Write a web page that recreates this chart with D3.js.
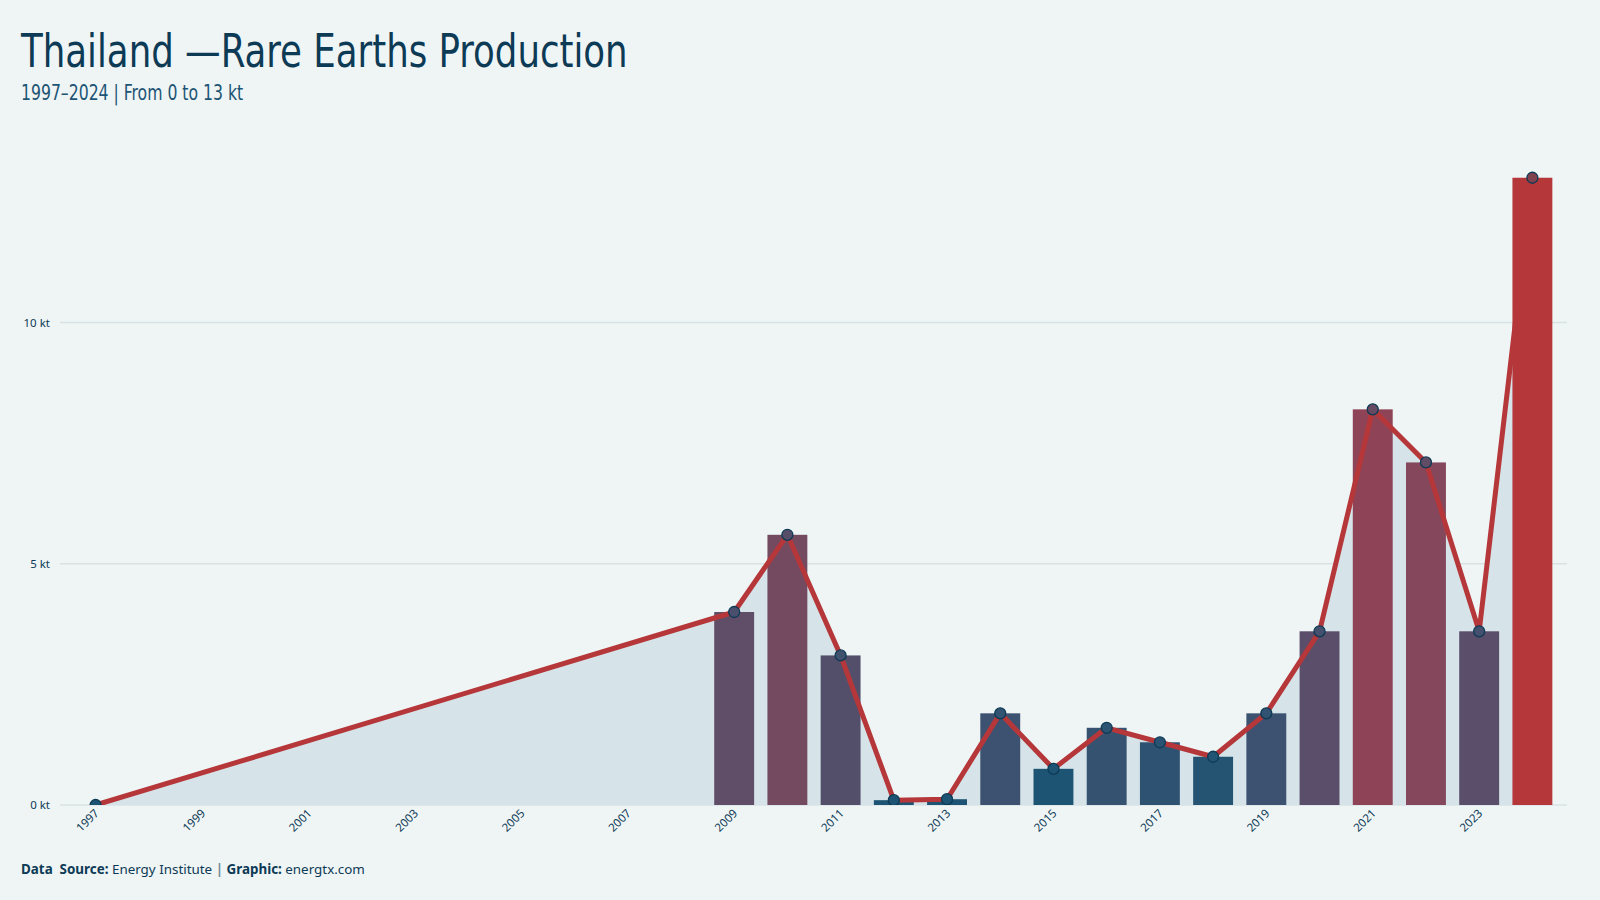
<!DOCTYPE html>
<html>
<head>
<meta charset="utf-8">
<script src="https://cdn.jsdelivr.net/npm/d3@7"></script>
<style>
  body { margin: 0; background: #eff5f5; }
  svg { display: block; }
</style>
</head>
<body>
<div class="svg"></div>
<script>
// data (kt)
const years = [1997, 2009, 2010, 2011, 2012, 2013, 2014, 2015, 2016, 2017, 2018, 2019, 2020, 2021, 2022, 2023, 2024];
const values = [0, 4.0, 5.6, 3.1, 0.1, 0.12, 1.9, 0.75, 1.6, 1.3, 1.0, 1.9, 3.6, 8.2, 7.1, 3.6, 13.0];
const allYears = d3.range(1997, 2025);
const yTicks = [0, 5, 10];
const xTickYears = allYears.filter(y => (y - 1997) % 2 === 0);

const w = 1600;
const h = 900;
const plotLeft = 60, plotRight = 1567, plotTop = 130, plotBottom = 805;

const data = years.map((y, i) => ({ year: y, value: values[i] }));

const svg = d3.select('.svg')
              .append('svg')
              .attr('width', w)
              .attr('height', h);

let xScale, yScale, colorScale;

let drawCanvas = () => {
    svg.append('rect')
       .attr('width', w)
       .attr('height', h)
       .attr('fill', '#eff5f5');

    // no condensed face installed, so squeeze the text sideways
    svg.append('text')
       .text('Thailand \u2014Rare Earths Production')
       .attr('transform', 'translate(21,67) scale(0.86,1)')
       .attr('fill', '#0d3a55')
       .style('font-family', '"DejaVu Sans", sans-serif')
       .style('font-stretch', 'condensed')
       .style('font-size', '46px');

    svg.append('text')
       .text('1997\u20132024 | From 0 to 13 kt')
       .attr('transform', 'translate(21,100) scale(0.83,1)')
       .attr('fill', '#1d5474')
       .style('font-family', '"DejaVu Sans", sans-serif')
       .style('font-stretch', 'condensed')
       .style('font-size', '21px');

    const foot = svg.append('text')
       .attr('x', 21)
       .attr('y', 874)
       .attr('fill', '#0d3a55')
       .style('font-family', '"Noto Sans", sans-serif')
       .style('font-size', '13.4px');
    foot.append('tspan').text('Data\u00a0 Source: ').style('font-weight', 'bold');
    foot.append('tspan').text('Energy Institute ');
    foot.append('tspan').text('| ').attr('fill', '#6f8a99').style('font-weight', 'bold');
    foot.append('tspan').text('Graphic: ').style('font-weight', 'bold');
    foot.append('tspan').text('energtx.com');
}

let createScales = () => {
    xScale = d3.scaleBand()
               .domain(allYears)
               .range([69, 1559])
               .paddingInner(0.25)
               .paddingOuter(0.125);

    yScale = d3.scaleLinear()
               .domain([0, 10])
               .range([plotBottom, 322.5]);

    colorScale = d3.scaleLinear()
                   .domain([0.8, 13])
                   .range(['#1d5474', '#b5373a'])
                   .interpolate(d3.interpolateRgb.gamma(2.0))
                   .clamp(true);
}

let createAxis = () => {
    const grid = svg.append('g').attr('id', 'y-axis');
    grid.selectAll('line')
        .data(yTicks)
        .enter()
        .append('line')
        .attr('x1', plotLeft)
        .attr('x2', plotRight)
        .attr('y1', d => yScale(d))
        .attr('y2', d => yScale(d))
        .attr('stroke', '#d8e2e5')
        .attr('stroke-width', 1.5);
    grid.selectAll('text')
        .data(yTicks)
        .enter()
        .append('text')
        .text(d => d + ' kt')
        .attr('x', 50)
        .attr('y', d => yScale(d))
        .attr('dy', '0.35em')
        .attr('text-anchor', 'end')
        .attr('fill', '#0d3a55')
        .style('font-family', '"Noto Sans", sans-serif')
        .style('font-size', '11.5px');

    const xAxis = svg.append('g').attr('id', 'x-axis');
    xAxis.selectAll('text')
         .data(xTickYears)
         .enter()
         .append('text')
         .text(d => d)
         .attr('transform', d => 'translate(' + (xScale(d) + xScale.bandwidth() / 2 + 4) + ',814) rotate(-45)')
         .attr('text-anchor', 'end')
         .attr('fill', '#0d3a55')
         .style('font-family', '"Noto Sans", sans-serif')
         .style('font-size', '11.5px');
}

let createPlot = () => {
    svg.append('clipPath')
       .attr('id', 'plot-clip')
       .append('rect')
       .attr('x', plotLeft)
       .attr('y', plotTop)
       .attr('width', plotRight - plotLeft)
       .attr('height', plotBottom - plotTop);

    const plot = svg.append('g').attr('clip-path', 'url(#plot-clip)');
    const cx = d => xScale(d.year) + xScale.bandwidth() / 2;

    const area = d3.area()
                   .x(cx)
                   .y0(yScale(0))
                   .y1(d => yScale(d.value));
    plot.append('path')
        .datum(data)
        .attr('d', area)
        .attr('fill', '#d6e3e8');

    plot.selectAll('rect.bar')
        .data(data.filter(d => d.value > 0))
        .enter()
        .append('rect')
        .attr('class', 'bar')
        .attr('x', d => xScale(d.year))
        .attr('y', d => yScale(d.value))
        .attr('width', xScale.bandwidth())
        .attr('height', d => yScale(0) - yScale(d.value))
        .attr('fill', d => colorScale(d.value));

    const line = d3.line()
                   .x(cx)
                   .y(d => yScale(d.value));
    plot.append('path')
        .datum(data)
        .attr('d', line)
        .attr('fill', 'none')
        .attr('stroke', '#b5373a')
        .attr('stroke-width', 5)
        .attr('stroke-linejoin', 'round');

    plot.selectAll('circle')
        .data(data)
        .enter()
        .append('circle')
        .attr('cx', cx)
        .attr('cy', d => yScale(d.value))
        .attr('r', 5.5)
        .attr('fill', d => d3.interpolateRgb(colorScale(d.value), '#1d5474')(0.35))
        .attr('stroke', '#0d3a55')
        .attr('stroke-width', 1.3);
}

drawCanvas();
createScales();
createAxis();
createPlot();
</script>
</body>
</html>
